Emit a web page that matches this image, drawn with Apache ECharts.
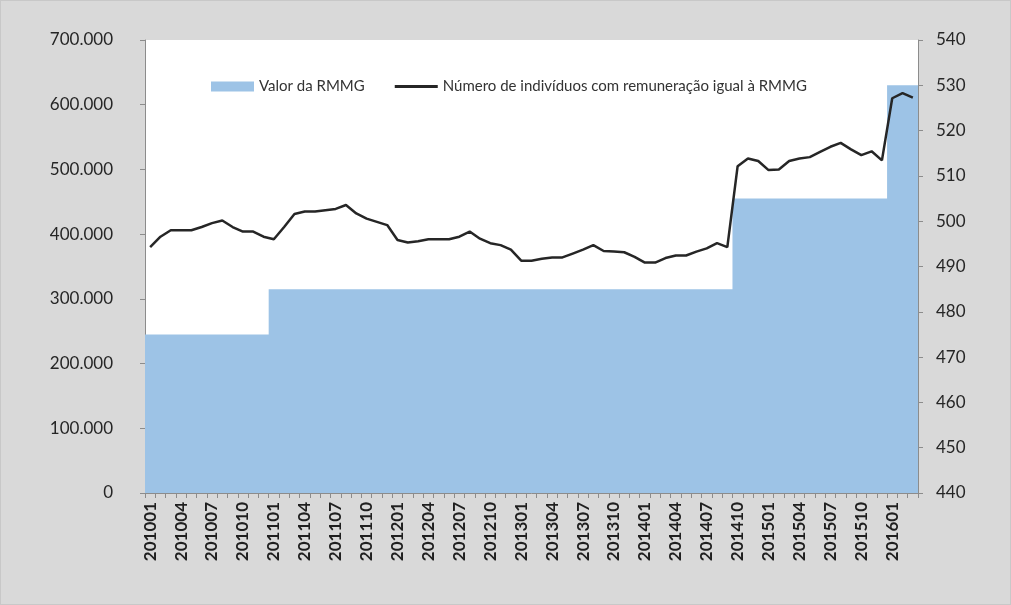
<!DOCTYPE html>
<html>
<head>
<meta charset="utf-8">
<script src="https://cdn.jsdelivr.net/npm/echarts@6/dist/echarts.min.js"></script>
<style>
  html, body { margin: 0; padding: 0; background: #d9d9d9; }
  #chart { width: 1011px; height: 605px; box-sizing: border-box; border: 1px solid #c8c8c8; }
</style>
</head>
<body>
<div id="chart"></div>
<script>
// categorias (mês)
const months = [
  '201001','201002','201003','201004','201005','201006','201007','201008','201009','201010','201011','201012',
  '201101','201102','201103','201104','201105','201106','201107','201108','201109','201110','201111','201112',
  '201201','201202','201203','201204','201205','201206','201207','201208','201209','201210','201211','201212',
  '201301','201302','201303','201304','201305','201306','201307','201308','201309','201310','201311','201312',
  '201401','201402','201403','201404','201405','201406','201407','201408','201409','201410','201411','201412',
  '201501','201502','201503','201504','201505','201506','201507','201508','201509','201510','201511','201512',
  '201601','201602','201603'
];

// Valor da RMMG (eixo direito)
const rmmg = [
  475, 475, 475, 475, 475, 475, 475, 475, 475, 475, 475, 475,
  485, 485, 485, 485, 485, 485, 485, 485, 485, 485, 485, 485,
  485, 485, 485, 485, 485, 485, 485, 485, 485, 485, 485, 485,
  485, 485, 485, 485, 485, 485, 485, 485, 485, 485, 485, 485,
  485, 485, 485, 485, 485, 485, 485, 485, 485, 505, 505, 505,
  505, 505, 505, 505, 505, 505, 505, 505, 505, 505, 505, 505,
  530, 530, 530
];

// Número de indivíduos com remuneração igual à RMMG (eixo esquerdo)
const individuos = [
  380000, 396000, 406000, 406000, 406000, 411000, 417000, 421000, 411000, 404000, 404000, 396000,
  392000, 411000, 431000, 435000, 435000, 437000, 439000, 445000, 432000, 424000, 419000, 414000,
  391000, 387000, 389000, 392000, 392000, 392000, 396000, 404000, 393000, 386000, 383000, 376000,
  359000, 359000, 362000, 364000, 364000, 370000, 376000, 383000, 374000, 373000, 372000, 365000,
  356000, 356000, 363000, 367000, 367000, 373000, 378000, 386000, 380000, 505000, 517000, 513000,
  499000, 500000, 513000, 517000, 519000, 527000, 535000, 541000, 531000, 522000, 528000, 514000,
  610000, 618000, 611000
];

// cada mês ocupa a faixa [i, i+1] num eixo auxiliar (degraus sem costuras)
const rmmgSteps = rmmg.map((v, i) => [i, v]);
rmmgSteps.push([rmmg.length, rmmg[rmmg.length - 1]]);

const font = 'Lato, "Open Sans", sans-serif';
const blue = '#9dc3e6';
const dark = '#262626';
const myChart = echarts.init(document.getElementById('chart'));

myChart.setOption({
  backgroundColor: '#d9d9d9',
  animation: false,
  grid: { left: 144, right: 92, top: 39, bottom: 111, show: true, backgroundColor: '#ffffff', borderWidth: 0 },
  legend: {
    left: 205,
    top: 73,
    itemGap: 30,
    itemWidth: 43,
    itemHeight: 10,
    textStyle: { fontFamily: font, fontSize: 15, color: '#333' },
    data: [
      { name: 'Valor da RMMG', icon: 'rect', itemStyle: { color: blue } },
      {
        name: 'Número de indivíduos com remuneração igual à RMMG',
        icon: 'path://M0,0 L36,0 L36,2.6 L0,2.6 Z',
        itemStyle: { color: dark }
      }
    ]
  },
  xAxis: [
    {
      type: 'category',
      data: months,
      boundaryGap: true,
      axisLine: { lineStyle: { color: '#8c8c8c', width: 1 } },
      axisTick: { show: true, interval: 0, length: 5, lineStyle: { color: '#8c8c8c' } },
      axisLabel: {
        interval: 2,
        rotate: 90,
        margin: 9,
        fontFamily: font,
        fontSize: 17,
        fontWeight: 'bold',
        color: '#1f1f1f'
      },
      splitLine: { show: false }
    },
    {
      // eixo auxiliar oculto para o degrau da RMMG
      type: 'value',
      min: 0,
      max: months.length,
      show: false
    }
  ],
  yAxis: [
    {
      type: 'value',
      min: 0,
      max: 700000,
      interval: 100000,
      position: 'left',
      axisLine: { show: true, lineStyle: { color: '#8c8c8c' } },
      axisTick: { show: true, length: 5, lineStyle: { color: '#8c8c8c' } },
      splitLine: { show: false },
      axisLabel: {
        margin: 32,
        fontFamily: font,
        fontSize: 17,
        color: dark,
        formatter: v => v === 0 ? '0' : (v / 1000).toFixed(0) + '.000'
      }
    },
    {
      type: 'value',
      min: 440,
      max: 540,
      interval: 10,
      position: 'right',
      axisLine: { show: true, lineStyle: { color: '#8c8c8c' } },
      axisTick: { show: true, length: 5, lineStyle: { color: '#8c8c8c' } },
      splitLine: { show: false },
      axisLabel: { margin: 18, fontFamily: font, fontSize: 17, color: dark }
    }
  ],
  series: [
    {
      name: 'Valor da RMMG',
      type: 'line',
      xAxisIndex: 1,
      yAxisIndex: 1,
      data: rmmgSteps,
      step: 'end',
      symbol: 'none',
      lineStyle: { width: 0, color: blue },
      itemStyle: { color: blue },
      areaStyle: { color: blue, opacity: 1, origin: 'start' }
    },
    {
      name: 'Número de indivíduos com remuneração igual à RMMG',
      type: 'line',
      yAxisIndex: 0,
      data: individuos,
      symbol: 'none',
      lineStyle: { color: dark, width: 2.5 },
      itemStyle: { color: dark }
    }
  ]
});
</script>
</body>
</html>
